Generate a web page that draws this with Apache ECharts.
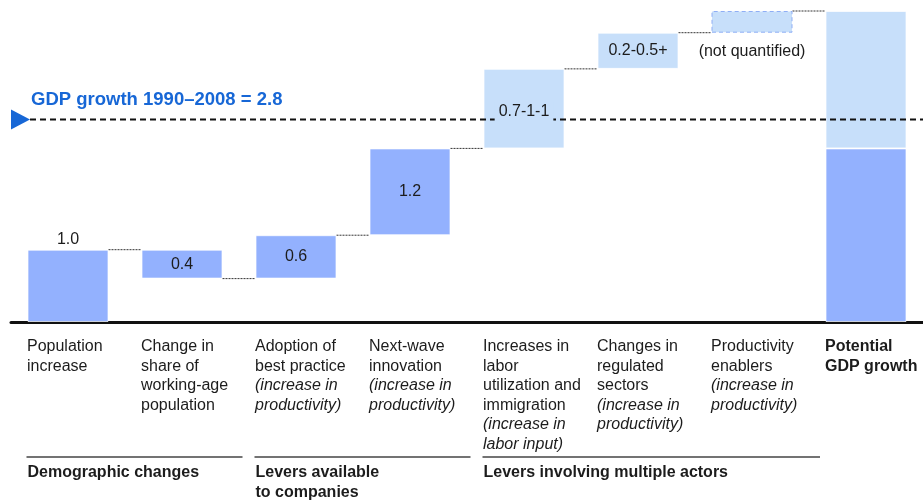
<!DOCTYPE html>
<html>
<head>
<meta charset="utf-8">
<script src="https://cdn.jsdelivr.net/npm/echarts@6/dist/echarts.min.js"></script>
<style>
  html, body { margin: 0; padding: 0; background: #fff; }
  #chart { width: 923px; height: 500px; }
</style>
</head>
<body>
<div id="chart"></div>
<script>
// Categories along the x axis (regular text) and their italic notes
const categories = [
  'Population\nincrease',
  'Change in\nshare of\nworking-age\npopulation',
  'Adoption of\nbest practice',
  'Next-wave\ninnovation',
  'Increases in\nlabor\nutilization and\nimmigration',
  'Changes in\nregulated\nsectors',
  'Productivity\nenablers',
  'Potential\nGDP growth'
];
const categoryNotes = [
  '', '',
  '(increase in\nproductivity)',
  '(increase in\nproductivity)',
  '(increase in\nlabor input)',
  '(increase in\nproductivity)',
  '(increase in\nproductivity)',
  ''
];

// Waterfall steps (percentage points of annual GDP growth)
const steps = [1.0, -0.4, 0.6, 1.2, 1.1, 0.5, 0.3];
const stepLabels = ['1.0', '0.4', '0.6', '1.2', '0.7-1-1', '0.2-0.5+', '(not quantified)'];
// The first steps are shown in the darker shade, including the lower part of the total
const darkStepCount = 4;
const gdpGrowth = 2.8;
const gdpLabel = 'GDP growth 1990\u20132008 = ' + gdpGrowth.toFixed(1);

// Group captions under the categories
const groupNames = ['Demographic changes', 'Levers available\nto companies', 'Levers involving multiple actors'];
const groupFrom = [0, 2, 4];
const groupTo = [1, 3, 6];

const DARK = '#93B1FE';
const LIGHT = '#C7DFFA';
const TEXT = '#1c1c1c';
const BLUE = '#1767D6';
const FONT = '"Liberation Sans", Arial, Helvetica, sans-serif';

// Derived stacks
const n = categories.length;
const cumulative = [];
let run = 0;
steps.forEach(s => { run += s; cumulative.push(+run.toFixed(4)); });
const base = [], darkVals = [], lightVals = [], labelVals = [];
steps.forEach((s, i) => {
  const prev = i === 0 ? 0 : cumulative[i - 1];
  const lo = Math.min(prev, cumulative[i]);
  base.push(+lo.toFixed(4));
  const h = +Math.abs(s).toFixed(4);
  labelVals.push(h);
  if (i < darkStepCount) { darkVals.push(h); lightVals.push('-'); }
  else { darkVals.push('-'); lightVals.push(h); }
});
const darkTotal = +cumulative[darkStepCount - 1].toFixed(4);
const lightTotal = +(cumulative[steps.length - 1] - darkTotal).toFixed(4);
base.push(0); darkVals.push(darkTotal); lightVals.push(lightTotal); labelVals.push('-');

const totalTop = cumulative[steps.length - 1];

const chart = echarts.init(document.getElementById('chart'), null, { renderer: 'canvas' });

const lightData = lightVals.map((v, i) => {
  if (i === steps.length - 1) {
    return { value: v, itemStyle: { color: LIGHT, borderColor: '#8FAEF5', borderWidth: 1, borderType: [4, 3] } };
  }
  return v;
});

const labelData = labelVals.map((v, i) => {
  if (v === '-') return v;
  const item = { value: v, label: { show: true, formatter: stepLabels[i] } };
  if (i === 0) item.label.position = 'top';
  else if (i === steps.length - 1) { item.label.position = 'bottom'; item.label.distance = 11; }
  else item.label.position = 'inside';
  if (i === 4) {
    item.label.backgroundColor = LIGHT;
    item.label.padding = [1, 4, 4, 4];
    item.label.offset = [0, 3];
  }
  return item;
});

const option = {
  animation: false,
  backgroundColor: '#fff',
  textStyle: { fontFamily: FONT },
  grid: { left: 11, right: 0, top: 11, bottom: 178, containLabel: false },
  xAxis: {
    type: 'category',
    data: categories,
    axisTick: { show: false },
    axisLine: { lineStyle: { color: '#111', width: 3 } },
    axisLabel: {
      interval: 0,
      margin: 15,
      align: 'right',
      width: 41,
      overflow: 'none',
      color: TEXT,
      fontFamily: FONT,
      formatter: (value, idx) => {
        const style = idx === n - 1 ? 'b' : 'r';
        const lines = value.split('\n').map(l => '{' + style + '|' + l + '}');
        if (categoryNotes[idx]) {
          categoryNotes[idx].split('\n').forEach(l => lines.push('{i|' + l + '}'));
        }
        return lines.join('\n');
      },
      rich: {
        r: { fontSize: 16, lineHeight: 19.5, align: 'left', color: TEXT, fontFamily: FONT },
        i: { fontSize: 16, lineHeight: 19.5, align: 'left', color: TEXT, fontStyle: 'italic', fontFamily: FONT },
        b: { fontSize: 16, lineHeight: 19.5, align: 'left', color: TEXT, fontWeight: 'bold', fontFamily: FONT }
      }
    }
  },
  yAxis: { type: 'value', min: 0, max: totalTop, show: false },
  series: [
    { name: 'base', type: 'bar', stack: 'v', barWidth: 81, barGap: '-100%', z: 2,
      itemStyle: { color: 'transparent' }, data: base, silent: true },
    { name: 'dark', type: 'bar', stack: 'v', barWidth: 81, barGap: '-100%', z: 2,
      itemStyle: { color: DARK, borderColor: 'rgba(255,255,255,0.7)', borderWidth: 1 }, data: darkVals },
    { name: 'light', type: 'bar', stack: 'v', barWidth: 81, barGap: '-100%', z: 2,
      itemStyle: { color: LIGHT, borderColor: 'rgba(255,255,255,0.7)', borderWidth: 1 }, data: lightData },
    // connectors between consecutive bars
    { name: 'connectors', type: 'custom', z: 2, silent: true,
      data: cumulative.map((c, i) => [i, c]),
      renderItem: (params, api) => {
        const p = api.coord([api.value(0), api.value(1)]);
        const bw = api.size([1, 0])[0];
        const half = 40.5;
        return {
          type: 'line',
          shape: { x1: p[0] + half, y1: p[1], x2: p[0] + bw - half, y2: p[1] },
          style: { stroke: '#333', lineWidth: 1, lineDash: [2, 1] }
        };
      }
    },
    // historical GDP growth reference line
    { name: 'gdp', type: 'custom', z: 3, silent: true, clip: false,
      data: [[0, gdpGrowth]],
      renderItem: (params, api) => {
        const y = api.coord([0, api.value(1)])[1];
        const cs = params.coordSys;
        const x0 = cs.x;
        return {
          type: 'group',
          children: [
            { type: 'line', shape: { x1: x0 + 19, y1: y, x2: cs.x + cs.width, y2: y },
              style: { stroke: '#111', lineWidth: 2, lineDash: [6, 4] } },
            { type: 'polygon', shape: { points: [[x0, y - 10], [x0 + 19, y], [x0, y + 10]] },
              style: { fill: BLUE } },
            { type: 'text', x: x0 + 20, y: y - 20,
              style: { text: gdpLabel, fill: BLUE, font: 'bold 18.5px ' + FONT, textVerticalAlign: 'middle', textAlign: 'left' } }
          ]
        };
      }
    },
    // value labels sitting above the reference line
    { name: 'lblBase', type: 'bar', stack: 'l', barWidth: 81, barGap: '-100%', z: 4, silent: true,
      itemStyle: { color: 'transparent' }, data: base },
    { name: 'labels', type: 'bar', stack: 'l', barWidth: 81, barGap: '-100%', z: 4, silent: true,
      itemStyle: { color: 'transparent' },
      label: { color: TEXT, fontSize: 16, fontFamily: FONT, distance: 2 },
      data: labelData }
  ]
};

chart.setOption(option);

// group captions with rules above them
const px = i => chart.convertToPixel({ gridIndex: 0 }, [i, 0])[0];
const graphics = [];
groupNames.forEach((name, g) => {
  const left = px(groupFrom[g]) - 41.5;
  const right = g === groupNames.length - 1 ? px(groupTo[g]) + 68 : px(groupTo[g] + 1) - 53.5;
  graphics.push({
    type: 'line', shape: { x1: left, y1: 457, x2: right, y2: 457 },
    style: { stroke: '#444', lineWidth: 1.5 }
  });
  graphics.push({
    type: 'text', x: left + 1, y: 463,
    style: { text: name, fill: TEXT, font: 'bold 16px ' + FONT, lineHeight: 20, textAlign: 'left', textVerticalAlign: 'top' }
  });
});
chart.setOption({ graphic: graphics });
</script>
</body>
</html>
